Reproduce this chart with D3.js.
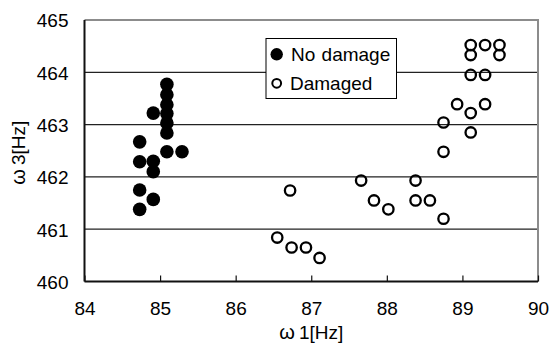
<!DOCTYPE html>
<html>
<head>
<meta charset="utf-8">
<script src="https://cdn.jsdelivr.net/npm/d3@7"></script>
<style>
  html, body { margin: 0; padding: 0; background: #fff; }
  svg { display: block; }
  text { font-family: "Liberation Sans", Arial, sans-serif; fill: #000; }
</style>
</head>
<body>
<svg id="chart" width="549" height="348"></svg>
<script>
// ---- data ----
const noDamageX = [84.73, 84.73, 84.73, 84.73, 84.91, 84.91, 84.91, 84.91,
                   85.09, 85.09, 85.09, 85.09, 85.09, 85.09, 85.09, 85.29];
const noDamageY = [462.67, 462.29, 461.75, 461.38, 462.30, 462.10, 461.57, 463.22,
                   463.77, 463.57, 463.38, 463.21, 463.03, 462.84, 462.48, 462.48];

const damagedX = [86.55, 86.74, 86.93, 87.11, 86.72,
                  87.66, 87.83, 88.02,
                  88.38, 88.38, 88.57,
                  88.75, 88.75, 88.75,
                  88.93,
                  89.11, 89.11, 89.11, 89.11, 89.11,
                  89.30, 89.30, 89.30,
                  89.49, 89.49];
const damagedY = [460.84, 460.65, 460.65, 460.45, 461.74,
                  461.93, 461.55, 461.38,
                  461.93, 461.55, 461.55,
                  461.20, 462.48, 463.04,
                  463.39,
                  463.22, 462.85, 463.95, 464.52, 464.33,
                  463.39, 463.95, 464.52,
                  464.52, 464.33];

const xTicks = [84, 85, 86, 87, 88, 89, 90];
const yTicks = [460, 461, 462, 463, 464, 465];
const xTitle = ["\u03c9", "1[Hz]"];
const yTitle = ["\u03c9", "3[Hz]"];
const legendLabels = ["No damage", "Damaged"];

// ---- layout ----
const svg = d3.select("#chart");
const L = 84.5, R = 538, T = 20, B = 281.5;
const FONT = '"Liberation Sans", Arial, sans-serif';

const x = d3.scaleLinear().domain([84, 90]).range([L, R]);
const y = d3.scaleLinear().domain([460, 465]).range([B, T]);

// gridlines
svg.append("g")
  .selectAll("line")
  .data(yTicks.filter(d => d > 460 && d < 465))
  .join("line")
  .attr("x1", L).attr("x2", R)
  .attr("y1", d => y(d)).attr("y2", d => y(d))
  .attr("stroke", "#222").attr("stroke-width", 1.2);

// top & right border (gray)
svg.append("path")
  .attr("d", `M${L},${T}H${R}V${B}`)
  .attr("fill", "none").attr("stroke", "#8c8c8c").attr("stroke-width", 2);

// bottom axis with inward ticks
const xAxis = d3.axisBottom(x).tickValues(xTicks).tickSize(-6).tickFormat(d3.format("d"));
const gx = svg.append("g").attr("transform", `translate(0,${B})`).call(xAxis);
gx.select(".domain").attr("stroke", "#111").attr("stroke-width", 2).attr("d", `M${L},0H${R}`);
gx.selectAll(".tick line").attr("stroke", "#111").attr("stroke-width", 1.2);
gx.selectAll(".tick text")
  .attr("font-size", 19)
  .attr("font-family", FONT)
  .attr("fill", "#000")
  .attr("dy", "0.71em")
  .attr("y", 20);

// left axis
const yAxis = d3.axisLeft(y).tickValues(yTicks).tickSize(0).tickFormat(d3.format("d")).tickPadding(16);
const gy = svg.append("g").attr("transform", `translate(${L},0)`).call(yAxis);
gy.select(".domain").attr("stroke", "#111").attr("stroke-width", 2).attr("d", `M0,${T}V${B}`);
gy.selectAll(".tick text")
  .attr("font-size", 19)
  .attr("font-family", FONT)
  .attr("fill", "#000")
  .attr("dy", "0.36em");

// axis titles
const xt = svg.append("text")
  .attr("x", (L + R) / 2).attr("y", 339)
  .attr("text-anchor", "middle")
  .attr("font-size", 19);
xt.append("tspan").attr("font-size", 20).text(xTitle[0]);
xt.append("tspan").attr("dx", 4).text(xTitle[1]);

const yt = svg.append("text")
  .attr("transform", `translate(25,${(T + B) / 2 + 2}) rotate(-90)`)
  .attr("text-anchor", "middle")
  .attr("font-size", 19);
yt.append("tspan").attr("font-size", 20).text(yTitle[0]);
yt.append("tspan").attr("dx", 4).text(yTitle[1]);

// data points
const nd = noDamageX.map((v, i) => ({x: v, y: noDamageY[i]}));
const dm = damagedX.map((v, i) => ({x: v, y: damagedY[i]}));

svg.append("g").selectAll("circle").data(nd).join("circle")
  .attr("cx", d => x(d.x)).attr("cy", d => y(d.y))
  .attr("r", 6.8).attr("fill", "#000");

svg.append("g").selectAll("circle").data(dm).join("circle")
  .attr("cx", d => x(d.x)).attr("cy", d => y(d.y))
  .attr("r", 5.2).attr("fill", "none").attr("stroke", "#000").attr("stroke-width", 2.3);

// legend
const lg = svg.append("g");
lg.append("rect")
  .attr("x", 266).attr("y", 38.5).attr("width", 130.5).attr("height", 60)
  .attr("fill", "#fff").attr("stroke", "#000").attr("stroke-width", 1);
lg.append("circle").attr("cx", 276.7).attr("cy", 54.3).attr("r", 6.2).attr("fill", "#000");
lg.append("circle").attr("cx", 276.7).attr("cy", 83.3).attr("r", 4.4)
  .attr("fill", "none").attr("stroke", "#000").attr("stroke-width", 2);
lg.append("text").attr("x", 291).attr("y", 54.3).attr("dy", "0.36em")
  .attr("font-size", 19).attr("word-spacing", 1).text(legendLabels[0]);
lg.append("text").attr("x", 290).attr("y", 83.3).attr("dy", "0.36em")
  .attr("font-size", 19).text(legendLabels[1]);
</script>
</body>
</html>
